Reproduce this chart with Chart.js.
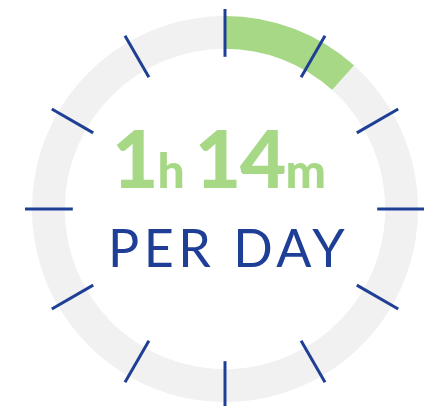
<!DOCTYPE html>
<html>
<head>
<meta charset="utf-8">
<script src="https://cdn.jsdelivr.net/npm/chart.js@4/dist/chart.umd.min.js"></script>
<style>
  html, body { margin: 0; padding: 0; background: #fff; }
  #wrap { position: relative; width: 424px; height: 406px; overflow: hidden; }
  #ring { position: absolute; left: 0; top: 0; }
  .label { position: absolute; white-space: nowrap; line-height: 1; }
  #amount { left: 112px; top: 117px; color: #a6d886; font-family: "Lato", sans-serif; font-weight: 900; }
  #amount .big { font-size: 80px; letter-spacing: -1px; }
  #amount .unit { font-size: 48px; margin: 0 10px 0 0; }
  #perDay { left: 108px; top: 221px; color: #1f3f96; font-family: "Lato", sans-serif; font-weight: 400; font-size: 52px; letter-spacing: 4.5px; }
</style>
</head>
<body>
<div id="wrap">
  <canvas id="ring" width="424" height="406"></canvas>
  <div class="label" id="amount"><span class="big">1</span><span class="unit">h</span><span class="big">14</span><span class="unit">m</span></div>
  <div class="label" id="perDay">PER DAY</div>
</div>
<script>
// minutes spent per day vs. the rest of the dial
const segmentLabels = ['Per day', 'Remaining'];
const segmentMinutes = [74, 560];
const segmentColors = ['#a6d886', '#f1f1f1'];
const dialTicks = 12;

// clock-style tick marks drawn across the ring
const dialTicksPlugin = {
    id: 'dialTicks',
    afterDatasetsDraw(chart) {
        const arc = chart.getDatasetMeta(0).data[0];
        if (!arc) return;
        const { x, y, outerRadius, innerRadius } = arc.getProps(['x', 'y', 'outerRadius', 'innerRadius'], true);
        const ctx = chart.ctx;
        ctx.save();
        ctx.strokeStyle = '#1f3f96';
        ctx.lineWidth = 3;
        for (let i = 0; i < dialTicks; i++) {
            const a = -Math.PI / 2 + (i * 2 * Math.PI) / dialTicks;
            const r0 = innerRadius - 8;
            const r1 = outerRadius + 7;
            ctx.beginPath();
            ctx.moveTo(x + r0 * Math.cos(a), y + r0 * Math.sin(a));
            ctx.lineTo(x + r1 * Math.cos(a), y + r1 * Math.sin(a));
            ctx.stroke();
        }
        ctx.restore();
    }
};

new Chart(document.getElementById('ring'), {
    type: 'doughnut',
    data: {
        labels: segmentLabels,
        datasets: [{
            data: segmentMinutes,
            backgroundColor: segmentColors,
            borderWidth: 0,
            hoverOffset: 0
        }]
    },
    options: {
        responsive: false,
        animation: false,
        cutout: '83%',
        layout: { padding: { left: 32, right: 6, top: 16, bottom: 4 } },
        plugins: {
            legend: { display: false },
            tooltip: { enabled: false }
        }
    },
    plugins: [dialTicksPlugin]
});
</script>
</body>
</html>
